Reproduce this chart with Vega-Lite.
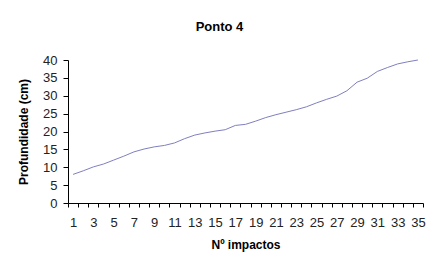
{
  "$schema": "https://vega.github.io/schema/vega-lite/v6.json",
  "autosize": "none",
  "width": 355,
  "height": 143,
  "padding": {"left": 68, "top": 60, "right": 8, "bottom": 57},
  "background": "white",
  "title": {
    "text": "Ponto 4",
    "font": "Liberation Sans",
    "fontSize": 13,
    "fontWeight": "bold",
    "color": "black",
    "anchor": "middle",
    "dx": -26,
    "offset": 20
  },
  "data": {
    "values": [
      {"n": 1, "p": 8.0}, {"n": 2, "p": 9.0}, {"n": 3, "p": 10.1}, {"n": 4, "p": 10.9},
      {"n": 5, "p": 12.0}, {"n": 6, "p": 13.1}, {"n": 7, "p": 14.3}, {"n": 8, "p": 15.1},
      {"n": 9, "p": 15.7}, {"n": 10, "p": 16.1}, {"n": 11, "p": 16.8}, {"n": 12, "p": 18.0},
      {"n": 13, "p": 19.0}, {"n": 14, "p": 19.6}, {"n": 15, "p": 20.1}, {"n": 16, "p": 20.5},
      {"n": 17, "p": 21.7}, {"n": 18, "p": 22.0}, {"n": 19, "p": 22.9}, {"n": 20, "p": 23.9},
      {"n": 21, "p": 24.7}, {"n": 22, "p": 25.4}, {"n": 23, "p": 26.1}, {"n": 24, "p": 26.9},
      {"n": 25, "p": 28.0}, {"n": 26, "p": 29.0}, {"n": 27, "p": 29.9}, {"n": 28, "p": 31.4},
      {"n": 29, "p": 33.8}, {"n": 30, "p": 34.9}, {"n": 31, "p": 36.8}, {"n": 32, "p": 37.9},
      {"n": 33, "p": 38.9}, {"n": 34, "p": 39.5}, {"n": 35, "p": 40.0}
    ]
  },
  "mark": {"type": "line", "color": "#7f7fbf", "strokeWidth": 1},
  "encoding": {
    "x": {
      "field": "n",
      "type": "ordinal",
      "scale": {"type": "band", "paddingInner": 0, "paddingOuter": 0},
      "axis": {
        "title": "Nº impactos",
        "labelAngle": 0,
        "tickBand": "extent",
        "labelExpr": "datum.value % 2 == 1 ? datum.label : ''",
        "labelPadding": 9,
        "tickSize": 4,
        "titlePadding": 10
      }
    },
    "y": {
      "field": "p",
      "type": "quantitative",
      "scale": {"domain": [0, 40], "nice": false},
      "axis": {
        "title": "Profundidade (cm)",
        "values": [0, 5, 10, 15, 20, 25, 30, 35, 40],
        "grid": false,
        "tickSize": 5,
        "labelPadding": 6,
        "titlePadding": 12
      }
    }
  },
  "config": {
    "view": {"stroke": null},
    "axis": {
      "domainColor": "black",
      "tickColor": "black",
      "labelColor": "#222222",
      "titleColor": "black",
      "labelFont": "Liberation Sans",
      "labelFontSize": 13,
      "titleFont": "Liberation Sans",
      "titleFontSize": 12,
      "titleFontWeight": "bold",
      "grid": false
    }
  }
}
